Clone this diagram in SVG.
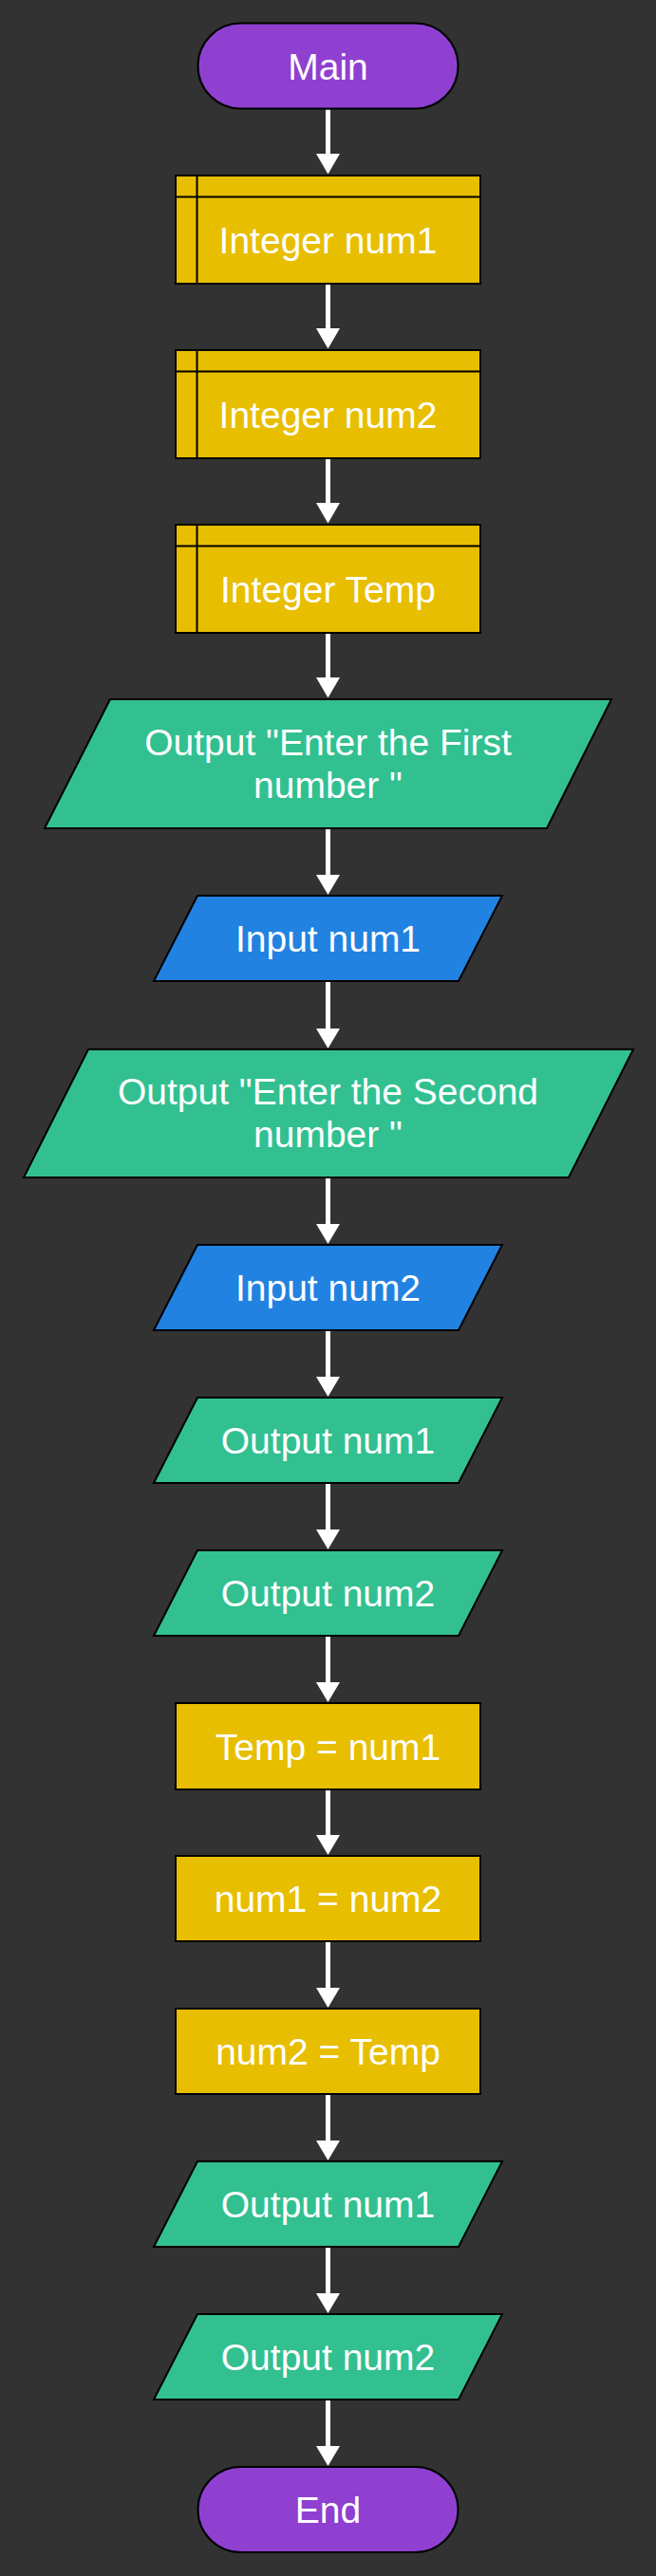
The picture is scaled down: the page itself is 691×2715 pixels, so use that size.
<svg xmlns="http://www.w3.org/2000/svg" width="691" height="2715" viewBox="0 0 691 2715">
<style>
.bg{fill:#323232}
.term{fill:#8f40d0;stroke:#000;stroke-width:2}
.proc{fill:#e8be00;stroke:#000;stroke-width:2}
.out{fill:#32c091;stroke:#000;stroke-width:2}
.in{fill:#2182e1;stroke:#000;stroke-width:2}
.inner{stroke:#000;stroke-width:2;fill:none}
text{font-family:"Liberation Sans",Arial,sans-serif;font-size:39px;fill:#fff;text-anchor:middle}
.conn{stroke:#fff;stroke-width:5;fill:none}
.head{fill:#fff}
</style>
<rect class="bg" x="0" y="0" width="691" height="2715"/>
<g id="connectors">
<path class="conn" d="M345.5,115.5 V162" />
<polygon class="head" points="333,162 358,162 345.5,183.5"/>
<path class="conn" d="M345.5,300 V346" />
<polygon class="head" points="333,346 358,346 345.5,367.5"/>
<path class="conn" d="M345.5,484 V530" />
<polygon class="head" points="333,530 358,530 345.5,551.5"/>
<path class="conn" d="M345.5,668 V714" />
<polygon class="head" points="333,714 358,714 345.5,735.5"/>
<path class="conn" d="M345.5,874 V922" />
<polygon class="head" points="333,922 358,922 345.5,943"/>
<path class="conn" d="M345.5,1035 V1084" />
<polygon class="head" points="333,1084 358,1084 345.5,1105"/>
<path class="conn" d="M345.5,1242 V1290" />
<polygon class="head" points="333,1290 358,1290 345.5,1311"/>
<path class="conn" d="M345.5,1403 V1451" />
<polygon class="head" points="333,1451 358,1451 345.5,1472"/>
<path class="conn" d="M345.5,1564 V1612" />
<polygon class="head" points="333,1612 358,1612 345.5,1633"/>
<path class="conn" d="M345.5,1725 V1773" />
<polygon class="head" points="333,1773 358,1773 345.5,1794"/>
<path class="conn" d="M345.5,1887 V1934" />
<polygon class="head" points="333,1934 358,1934 345.5,1955"/>
<path class="conn" d="M345.5,2047 V2095" />
<polygon class="head" points="333,2095 358,2095 345.5,2116"/>
<path class="conn" d="M345.5,2208 V2256" />
<polygon class="head" points="333,2256 358,2256 345.5,2277"/>
<path class="conn" d="M345.5,2369 V2417" />
<polygon class="head" points="333,2417 358,2417 345.5,2438"/>
<path class="conn" d="M345.5,2530 V2578" />
<polygon class="head" points="333,2578 358,2578 345.5,2599"/>
</g>
<g id="n-main">
<rect class="term" x="208.5" y="24.5" width="274" height="90" rx="45" ry="45"/>
<text x="345.5" y="83.5">Main</text>
</g>
<g id="n-decl1">
<rect class="proc" x="185" y="185" width="321" height="114"/>
<path class="inner" d="M207.5,185 V299 M185,207.5 H506"/>
<text x="345.5" y="267">Integer num1</text>
</g>
<g id="n-decl2">
<rect class="proc" x="185" y="369" width="321" height="114"/>
<path class="inner" d="M207.5,369 V483 M185,391.5 H506"/>
<text x="345.5" y="451">Integer num2</text>
</g>
<g id="n-decl3">
<rect class="proc" x="185" y="553" width="321" height="114"/>
<path class="inner" d="M207.5,553 V667 M185,575.5 H506"/>
<text x="345.5" y="635">Integer Temp</text>
</g>
<g id="n-out1">
<polygon class="out" points="116,737 644,737 576,873 47,873"/>
<text x="345.5" y="795.5">Output "Enter the First</text>
<text x="345.5" y="840.5">number "</text>
</g>
<g id="n-in1">
<polygon class="in" points="208,944 529,944 483,1034 162,1034"/>
<text x="345.5" y="1003">Input num1</text>
</g>
<g id="n-out2">
<polygon class="out" points="93,1106 667,1106 599,1241 25,1241"/>
<text x="345.5" y="1163.5">Output "Enter the Second</text>
<text x="345.5" y="1208.5">number "</text>
</g>
<g id="n-in2">
<polygon class="in" points="208,1312 529,1312 483,1402 162,1402"/>
<text x="345.5" y="1371">Input num2</text>
</g>
<g id="n-out3">
<polygon class="out" points="208,1473 529,1473 483,1563 162,1563"/>
<text x="345.5" y="1532">Output num1</text>
</g>
<g id="n-out4">
<polygon class="out" points="208,1634 529,1634 483,1724 162,1724"/>
<text x="345.5" y="1693">Output num2</text>
</g>
<g id="n-assign1">
<rect class="proc" x="185" y="1795" width="321" height="91"/>
<text x="345.5" y="1854.5">Temp = num1</text>
</g>
<g id="n-assign2">
<rect class="proc" x="185" y="1956" width="321" height="90"/>
<text x="345.5" y="2015">num1 = num2</text>
</g>
<g id="n-assign3">
<rect class="proc" x="185" y="2117" width="321" height="90"/>
<text x="345.5" y="2176">num2 = Temp</text>
</g>
<g id="n-out5">
<polygon class="out" points="208,2278 529,2278 483,2368 162,2368"/>
<text x="345.5" y="2337">Output num1</text>
</g>
<g id="n-out6">
<polygon class="out" points="208,2439 529,2439 483,2529 162,2529"/>
<text x="345.5" y="2498">Output num2</text>
</g>
<g id="n-end">
<rect class="term" x="208.5" y="2600" width="274" height="90" rx="45" ry="45"/>
<text x="345.5" y="2659">End</text>
</g>
</svg>
